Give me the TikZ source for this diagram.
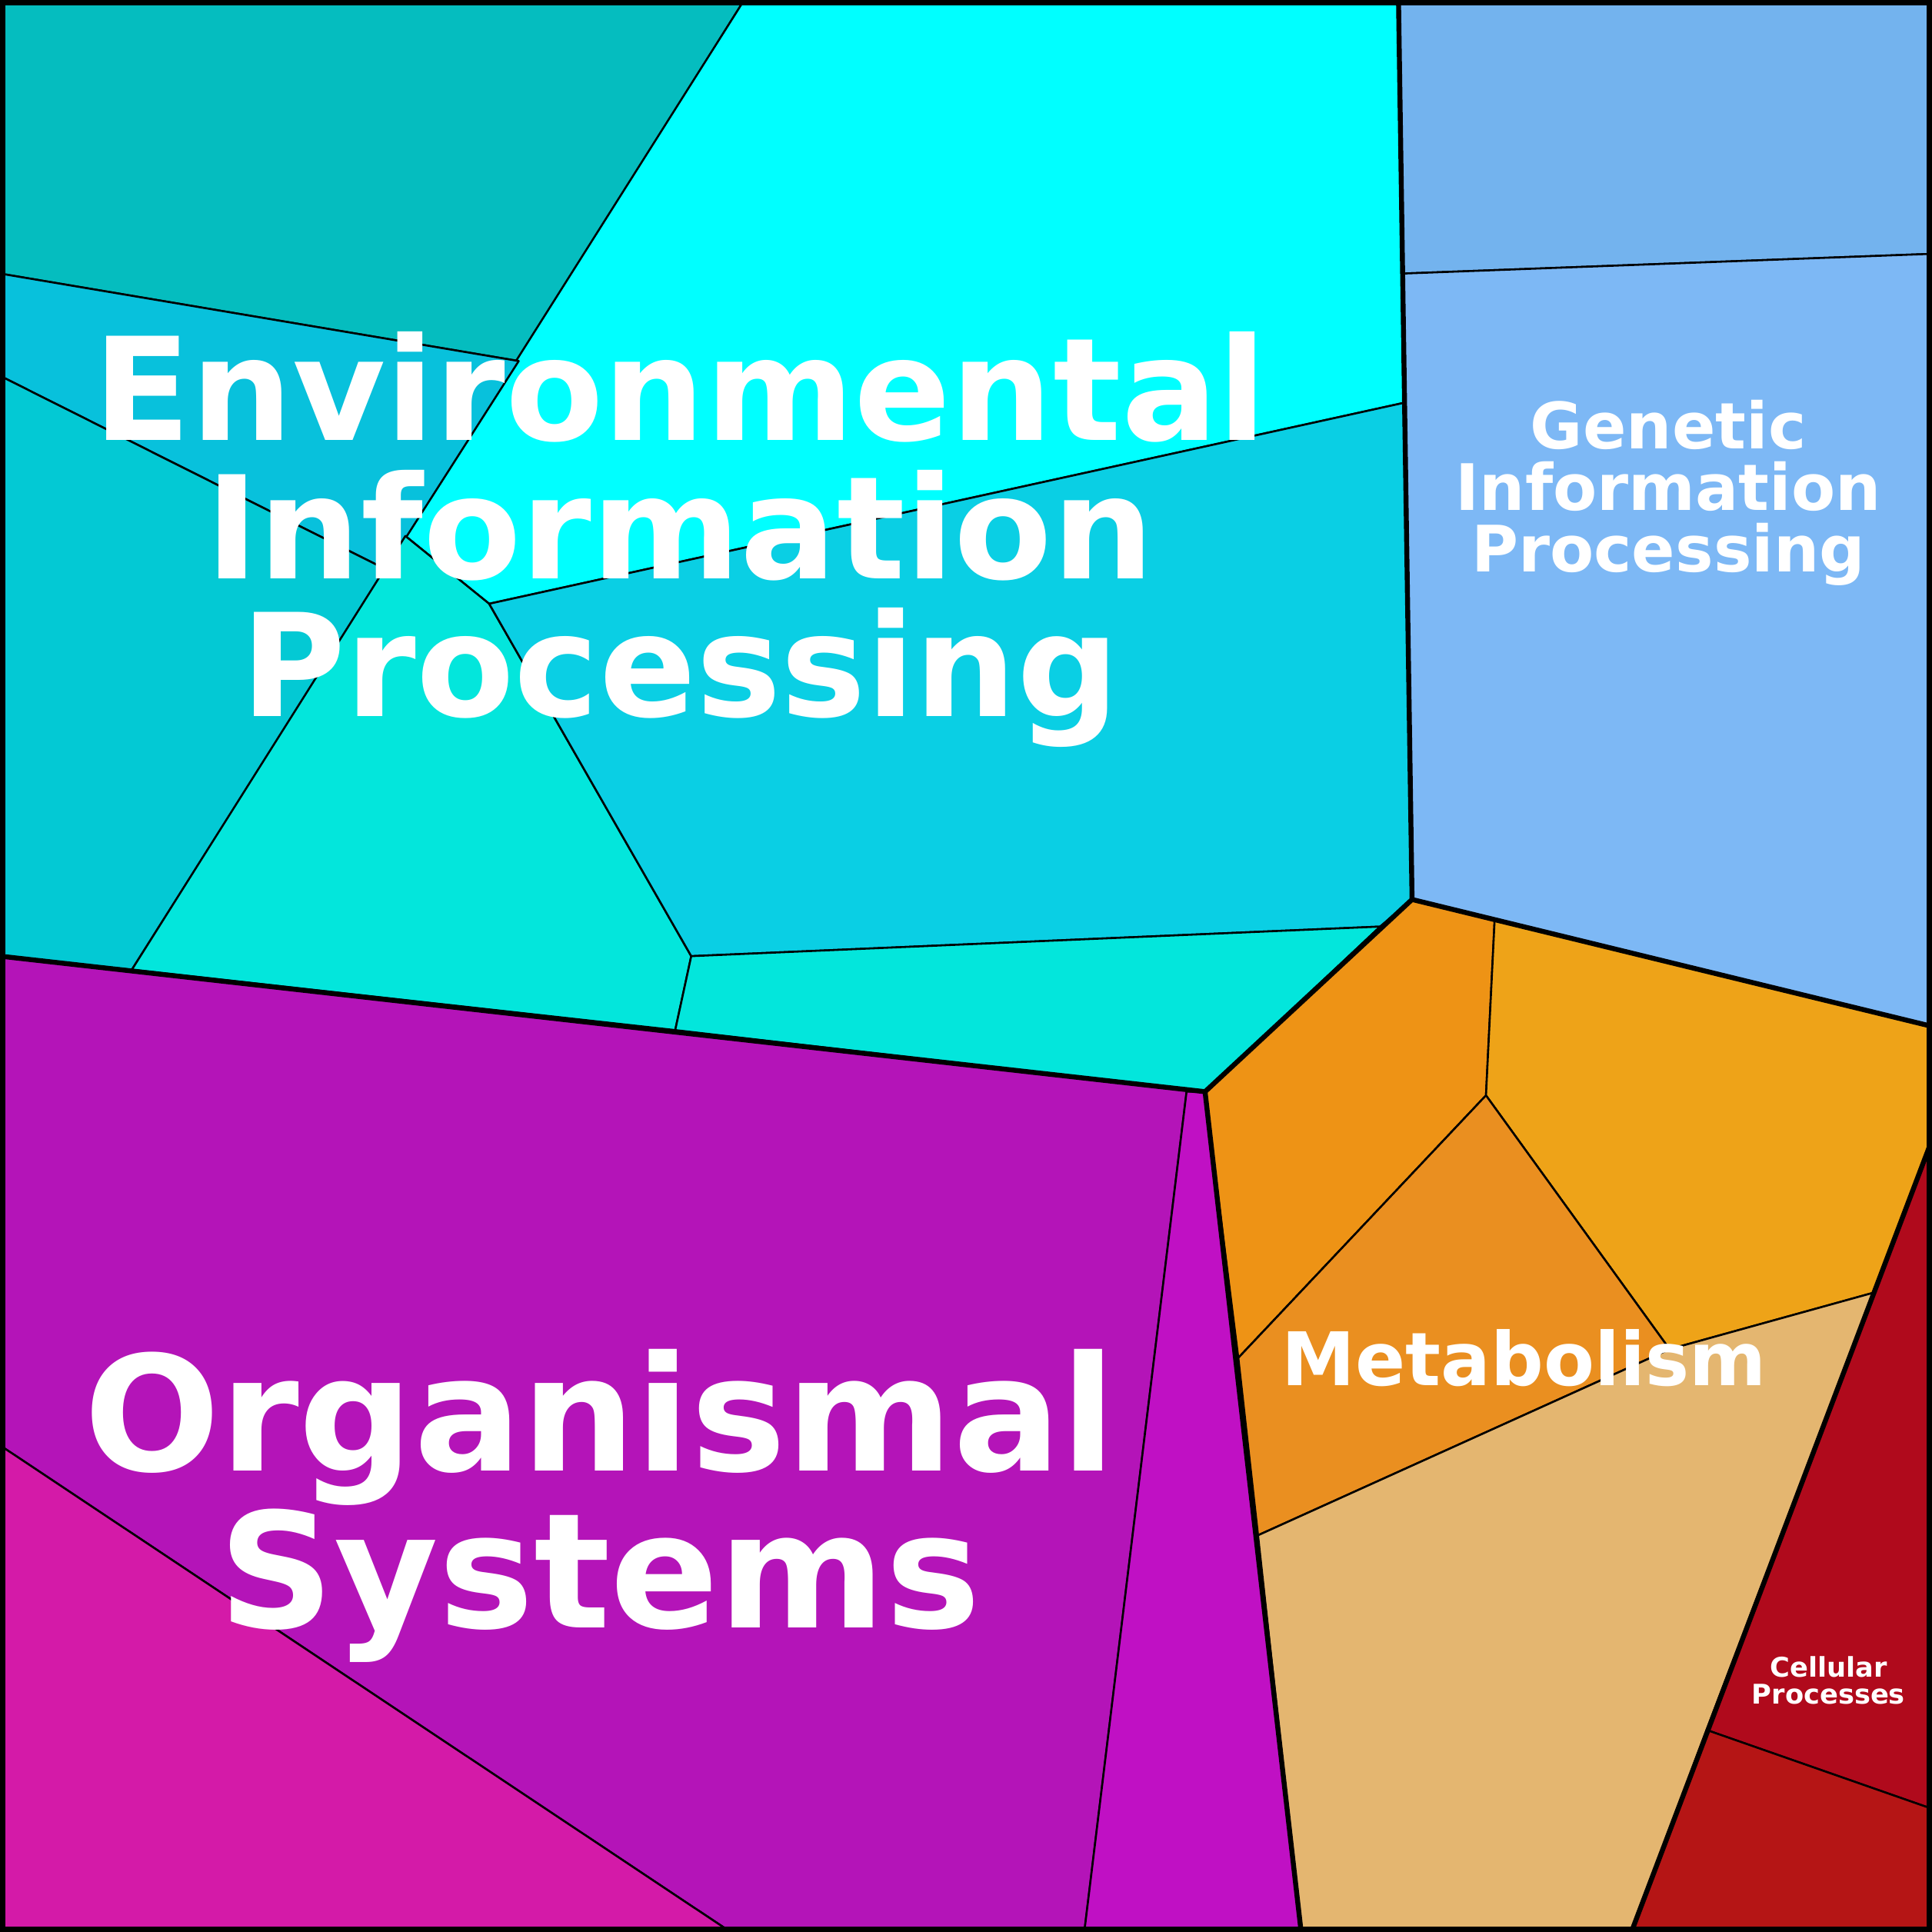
\documentclass[tikz,border=0pt]{standalone}
\usepackage{fontspec}
\setmainfont{DejaVu Sans}
\tikzset{cell/.style={draw=black,line width=1.6pt,line join=round},
thick line/.style={draw=black,line width=4pt,line join=round},
lbl/.style={text=white,font=\bfseries,align=center,inner sep=0pt}}
\begin{document}
\begin{tikzpicture}[x=1pt,y=-1pt]
\useasboundingbox (0,0) rectangle (1568,1568);
% Environmental
\fill[cell,fill={rgb,255:red,5;green,189;blue,191}] (0,0)--(604,0)--(421,293)--(0,222)--cycle;
\fill[cell,fill={rgb,255:red,0;green,255;blue,255}] (604,0)--(1135,0)--(1139,327)--(397,490)--(329,435)--cycle;
\fill[cell,fill={rgb,255:red,8;green,193;blue,220}] (0,222)--(421,293)--(313,462)--(0,305)--cycle;
\fill[cell,fill={rgb,255:red,3;green,201;blue,212}] (0,305)--(313,462)--(107,787)--(0,776)--cycle;
\fill[cell,fill={rgb,255:red,3;green,230;blue,220}] (329,435)--(397,490)--(561,776)--(548,836)--(107,787)--cycle;
\fill[cell,fill={rgb,255:red,10;green,207;blue,228}] (397,490)--(1139,327)--(1146,730)--(1120,752)--(561,776)--cycle;
\fill[cell,fill={rgb,255:red,3;green,230;blue,220}] (561,776)--(1120,752)--(978,886)--(548,836)--cycle;
% Genetic
\fill[cell,fill={rgb,255:red,115;green,179;blue,238}] (1135,0)--(1568,0)--(1568,206)--(1139,222)--cycle;
\fill[cell,fill={rgb,255:red,125;green,184;blue,245}] (1139,222)--(1568,206)--(1568,833)--(1146,730)--cycle;
% Metabolism
\fill[cell,fill={rgb,255:red,238;green,147;blue,21}] (1146,730)--(1213,747)--(1206,889)--(1005,1102)--(978,886)--cycle;
\fill[cell,fill={rgb,255:red,238;green,163;blue,24}] (1213,747)--(1568,833)--(1568,925)--(1521,1049)--(1355,1095)--(1206,889)--cycle;
\fill[cell,fill={rgb,255:red,234;green,143;blue,32}] (1206,889)--(1355,1095)--(1021,1246)--(1005,1102)--cycle;
\fill[cell,fill={rgb,255:red,228;green,182;blue,112}] (1021,1246)--(1355,1095)--(1521,1049)--(1324,1568)--(1056,1568)--cycle;
% Cellular
\fill[cell,fill={rgb,255:red,176;green,10;blue,28}] (1568,925)--(1568,1468)--(1385,1404)--cycle;
\fill[cell,fill={rgb,255:red,181;green,21;blue,21}] (1385,1404)--(1568,1468)--(1568,1568)--(1324,1568)--cycle;
% Organismal
\fill[cell,fill={rgb,255:red,180;green,20;blue,184}] (0,776)--(978,886)--(963,886)--(880,1568)--(593,1568)--(0,1173)--cycle;
\fill[cell,fill={rgb,255:red,212;green,26;blue,168}] (0,1173)--(593,1568)--(0,1568)--cycle;
\fill[cell,fill={rgb,255:red,192;green,16;blue,196}] (963,886)--(978,886)--(1056,1568)--(880,1568)--cycle;
% group borders
\draw[thick line] (0,776)--(978,886)--(1146,730)--(1135,0);
\draw[thick line] (1146,730)--(1568,833);
\draw[thick line] (978,886)--(1056,1568);
\draw[thick line] (1568,925)--(1324,1568);
\draw[draw=black,line width=9pt] (0,0) rectangle (1568,1568);
% labels
\node[lbl,font=\bfseries\fontsize{116}{112}\selectfont] (env) at (552,438) {Environmental\\Information\\Processing};
\node[lbl,font=\bfseries\fontsize{52}{50}\selectfont] (gen) at (1354,400) {Genetic\\Information\\Processing};
\node[lbl,font=\bfseries\fontsize{60}{60}\selectfont] (met) at (1237,1102) {Metabolism};
\node[lbl,font=\bfseries\fontsize{130}{127}\selectfont] (org) at (487,1222) {Organismal\\Systems};
\node[lbl,font=\bfseries\fontsize{22}{22}\selectfont] (cel) at (1484,1364) {Cellular\\Processes};
\end{tikzpicture}
\end{document}
